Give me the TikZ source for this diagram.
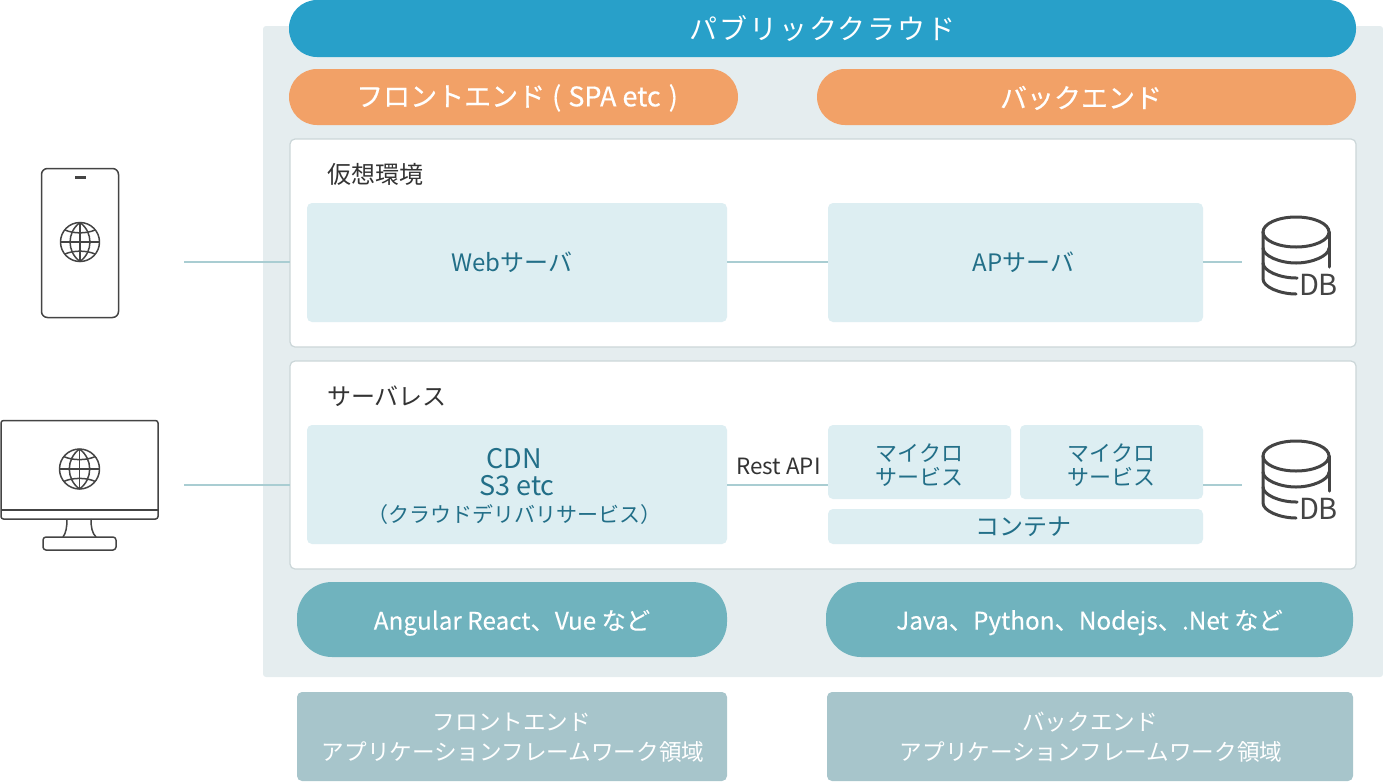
\documentclass[tikz,border=0pt]{standalone}
\usepackage{fontspec}
\setmainfont{Noto Sans CJK JP}
\newfontfamily\medfont[FakeBold=0.4]{Noto Sans CJK JP}
\newfontfamily\lightmed[FakeBold=0.15]{Noto Sans CJK JP}
\definecolor{panel}{HTML}{E5EDEF}
\definecolor{blue}{HTML}{28A0C9}
\definecolor{orange}{HTML}{F2A167}
\definecolor{inner}{HTML}{DDEEF2}
\definecolor{teal}{HTML}{70B3BE}
\definecolor{greyteal}{HTML}{A7C5CB}
\definecolor{edge}{HTML}{CBD6D8}
\definecolor{wire}{HTML}{A9CDD2}
\definecolor{tx}{HTML}{226F88}
\definecolor{dark}{HTML}{444444}
\newcommand{\fs}[1]{\fontsize{#1}{#1}\selectfont}
\tikzset{
 x=1pt,y=-1pt,
 pill/.style={rectangle,align=center,inner sep=0,outer sep=0,anchor=north west,text=white},
 innerbox/.style={fill=inner,rounded corners=5pt,anchor=north west,inner sep=0,outer sep=0,text=tx,align=center},
 panelbox/.style={fill=white,draw=edge,line width=1.2pt,rounded corners=5pt,anchor=north west,inner sep=0,outer sep=0},
 wireline/.style={draw=wire,line width=1.1pt},
 ico/.style={draw=dark,line width=1.5pt,line join=round},
 dbline/.style={draw=dark,line width=3pt,line cap=round},
 lab/.style={text=black!80,inner sep=0,outer sep=0},
}
\newcommand{\globe}[3]{% cx cy r
 \begin{scope}[shift={(#1,#2)},ico]
  \draw (0,0) circle[radius=#3];
  \draw (0,-#3) -- (0,#3);
  \draw (-#3,0) -- (#3,0);
  \draw (0,-#3) .. controls (-#3*0.68,-#3*0.5) and (-#3*0.68,#3*0.5) .. (0,#3);
  \draw (0,-#3) .. controls (#3*0.68,-#3*0.5) and (#3*0.68,#3*0.5) .. (0,#3);
  \draw (-#3*0.78,-#3*0.62) .. controls (-#3*0.35,-#3*0.42) and (#3*0.35,-#3*0.42) .. (#3*0.78,-#3*0.62);
  \draw (-#3*0.78,#3*0.62) .. controls (-#3*0.35,#3*0.42) and (#3*0.35,#3*0.42) .. (#3*0.78,#3*0.62);
 \end{scope}}
\newcommand{\dbicon}[2]{% name, y offset
 \begin{scope}[shift={(0,#2)}]
  \draw[dbline] (1296,232) ellipse[x radius=33,y radius=15];
  \draw[dbline] (1263,232) -- (1263,279) .. controls (1263,287) and (1280,294) .. (1296,294);
  \draw[dbline] (1329,232) -- (1329,267);
  \draw[dbline] (1263,248) .. controls (1263,256) and (1280,263) .. (1296,263) .. controls (1312,263) and (1329,256) .. (1329,248);
  \draw[dbline] (1263,263) .. controls (1263,271) and (1280,278) .. (1296,278) -- (1297,278);
  \node[lab,text=dark,anchor=center,font=\fs{29}] (#1t) at (1318.5,284.5) {DB};
 \end{scope}}
\begin{document}
\begin{tikzpicture}
\useasboundingbox (0,0) rectangle (1383,782);
\fill[panel,rounded corners=3pt] (263,26) rectangle (1383,677);
% headers
\node[pill,fill=blue,rounded corners=28pt,minimum width=1067pt,minimum height=57pt,font=\fs{28}] (cloud) at (289,0) {\addfontfeature{LetterSpace=7}パブリッククラウド};
\node[pill,fill=orange,rounded corners=28pt,minimum width=449pt,minimum height=56pt,font=\medfont\fs{27}] (front) at (289,69) {\rule{0pt}{24pt}\hspace*{7pt}フロントエンド\hspace{7pt}(\hspace{1pt} SPA etc\hspace{2pt} )};
\node[pill,fill=orange,rounded corners=28pt,minimum width=539pt,minimum height=56pt,font=\medfont\fs{27}] (back) at (817,69) {\rule{0pt}{24pt}バックエンド\hspace*{11pt}};
% panels
\node[panelbox,minimum width=1066pt,minimum height=208pt] (vm) at (290,139) {};
\node[panelbox,minimum width=1066pt,minimum height=208pt] (sl) at (290,361) {};
\node[lab,anchor=west,font=\fs{24}] (vmt) at (327,174) {仮想環境};
\node[lab,anchor=west,font=\fs{24}] (slt) at (327,396) {サーバレス};
% inner
\node[innerbox,minimum width=420pt,minimum height=119pt,font=\fs{24}] (web) at (307,203) {Webサーバ\hspace*{10pt}};
\node[innerbox,minimum width=375pt,minimum height=119pt,font=\fs{24}] (ap) at (828,203) {\hspace*{16pt}APサーバ};
\node[innerbox,minimum width=420pt,minimum height=119pt] (cdn) at (307,425) {\fs{27}\rule{0pt}{24pt}CDN\hspace*{6pt}\\[6pt]\fs{27}S3 etc\hspace*{6pt}\\[8pt]\fs{21}（クラウドデリバリサービス）\hspace*{6pt}};
\node[innerbox,minimum width=183pt,minimum height=74pt,font=\fs{22}] (ms1) at (828,425) {\rule{0pt}{24pt}マイクロ\\[2pt]サービス};
\node[innerbox,minimum width=183pt,minimum height=74pt,font=\fs{22}] (ms2) at (1020,425) {\rule{0pt}{24pt}マイクロ\\[2pt]サービス};
\node[innerbox,minimum width=375pt,minimum height=35pt,font=\fs{24}] (ctn) at (828,509) {\hspace*{15pt}コンテナ};
\node[lab,anchor=center,font=\fs{22.4}] (rest) at (778.5,466) {Rest API};
% DB
\dbicon{dbA}{0}
\dbicon{dbB}{224}
% bottom
\node[pill,fill=teal,rounded corners=35pt,minimum width=430pt,minimum height=75pt,font=\lightmed\fs{24.3}] (fw1) at (297,582) {\rule{0pt}{26.5pt}Angular React、Vue など};
\node[pill,fill=teal,rounded corners=35pt,minimum width=527pt,minimum height=75pt,font=\lightmed\fs{24.3}] (fw2) at (826,582) {\rule{0pt}{26pt}Java、Python、Nodejs、.Net など};
\node[pill,fill=greyteal,rounded corners=5pt,minimum width=430pt,minimum height=89pt,font=\fs{22.6}] (ar1) at (297,692) {\rule{0pt}{20pt}フロントエンド\\[7pt]アプリケーションフレームワーク領域\hspace*{-2pt}};
\node[pill,fill=greyteal,rounded corners=5pt,minimum width=526pt,minimum height=89pt,font=\fs{22.6}] (ar2) at (827,692) {\rule{0pt}{20pt}バックエンド\\[7pt]アプリケーションフレームワーク領域\hspace*{-2pt}};
% devices
\coordinate (phoneEnd) at (184,262);
\coordinate (pcEnd) at (184,485);
\coordinate (dbAEnd) at (1242,262);
\coordinate (dbBEnd) at (1242,485);
\draw[ico,rounded corners=6pt] (41.5,168.5) rectangle (118.5,317.5);
\draw[dark,line width=2.2pt] (75,177.5) -- (86,177.5);
\globe{80}{242}{19.5}
\draw[ico,rounded corners=2.5pt] (1,420.5) rectangle (158,519);
\draw[ico] (1,510) -- (158,510);
\draw[ico] (67,519) .. controls (67,527) and (66,533) .. (63,537);
\draw[ico] (91,519) .. controls (91,527) and (92,533) .. (96,537);
\draw[ico,rounded corners=3pt] (43,537) rectangle (116,550);
\globe{79.5}{469}{20}
% wires
\draw[wireline] (phoneEnd) -- (vm.west |- phoneEnd);
\draw[wireline] (pcEnd) -- (sl.west |- pcEnd);
\draw[wireline] (web.east |- phoneEnd) -- (ap.west |- phoneEnd);
\draw[wireline] (ap.east |- phoneEnd) -- (dbAEnd);
\draw[wireline] (cdn.east |- pcEnd) -- (ms1.west |- pcEnd);
\draw[wireline] (ms2.east |- pcEnd) -- (dbBEnd);
\end{tikzpicture}
\end{document}
